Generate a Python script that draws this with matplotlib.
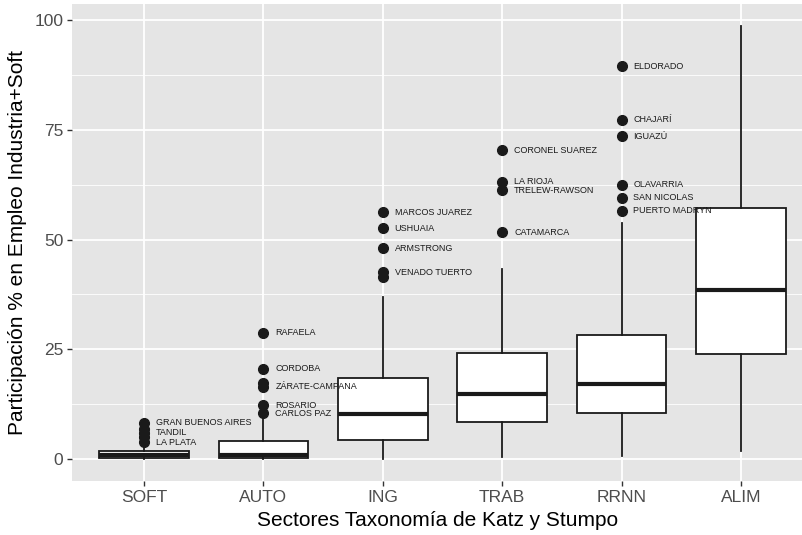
import matplotlib
matplotlib.use("Agg")
import matplotlib.pyplot as plt

plt.rcParams["font.family"] = ["Liberation Sans", "DejaVu Sans"]

# sectores y estadisticos de las cajas
sectores = ["SOFT", "AUTO", "ING", "TRAB", "RRNN", "ALIM"]
whislo = [0.0, 0.0, 0.0, 0.5, 0.75, 1.9]
q1 = [0.2, 0.2, 4.5, 8.6, 10.6, 23.9]
mediana = [1.0, 1.0, 10.2, 14.8, 17.2, 38.6]
q3 = [1.8, 4.1, 18.4, 24.1, 28.3, 57.1]
whishi = [3.0, 9.1, 36.9, 43.2, 53.7, 98.6]

# outliers por sector y sus etiquetas ("" = sin etiqueta)
outliers = [
    [8.3, 7.0, 6.1, 5.0, 3.9],
    [28.8, 20.6, 17.3, 16.5, 12.3, 10.5],
    [56.2, 52.6, 48.0, 42.5, 41.4],
    [70.3, 63.1, 61.2, 51.7],
    [89.4, 77.2, 73.5, 62.4, 59.5, 56.5],
    [],
]
etiquetas = [
    ["GRAN BUENOS AIRES", "", "TANDIL", "", "LA PLATA"],
    ["RAFAELA", "CORDOBA", "", "ZÁRATE-CAMPANA", "ROSARIO", "CARLOS PAZ"],
    ["MARCOS JUAREZ", "USHUAIA", "ARMSTRONG", "VENADO TUERTO", ""],
    ["CORONEL SUAREZ", "LA RIOJA", "TRELEW-RAWSON", "CATAMARCA"],
    ["ELDORADO", "CHAJARÍ", "IGUAZÚ", "OLAVARRIA", "SAN NICOLAS", "PUERTO MADRYN"],
    [],
]

fig = plt.figure(figsize=(8.02, 5.35), dpi=100)
ax = fig.add_axes([72.3 / 802, 1 - 481 / 535, 729.7 / 802, 476.7 / 535])
ax.set_facecolor("#E5E5E5")

pos = list(range(1, len(sectores) + 1))
stats = []
for i in range(len(sectores)):
    stats.append(dict(whislo=whislo[i], q1=q1[i], med=mediana[i],
                      q3=q3[i], whishi=whishi[i], fliers=[]))

ax.bxp(stats, positions=pos, widths=0.75, showfliers=False, patch_artist=True,
       boxprops=dict(facecolor="white", edgecolor="#1a1a1a", linewidth=1.3),
       medianprops=dict(color="#1a1a1a", linewidth=3),
       whiskerprops=dict(color="#1a1a1a", linewidth=1.3),
       capprops=dict(linewidth=0), zorder=3)

for p, vals, labs in zip(pos, outliers, etiquetas):
    ax.plot([p] * len(vals), vals, "o", color="#1a1a1a", markersize=7, zorder=4)
    for v, lab in zip(vals, labs):
        if lab:
            ax.text(p + 0.1, v, lab, fontsize=6.5, color="#1a1a1a",
                    ha="left", va="center", zorder=5)

ax.set_xlim(0.4, 0.4 + 729.7 / 119.4)
ax.set_ylim(-4.93, 103.5)
ax.set_xticks(pos)
ax.set_xticklabels(sectores)
ax.set_yticks([0, 25, 50, 75, 100])
ax.set_yticks([12.5, 37.5, 62.5, 87.5], minor=True)
ax.grid(which="major", color="white", linewidth=1.3, zorder=0)
ax.grid(which="minor", axis="y", color="white", linewidth=0.6, zorder=0)
ax.set_axisbelow(True)
for s in ax.spines.values():
    s.set_visible(False)
ax.tick_params(which="major", length=3.5, width=1, color="#333333",
               labelsize=12.5, labelcolor="#4d4d4d", pad=3)
ax.tick_params(which="minor", length=0)

ax.set_xlabel("Sectores Taxonomía de Katz y Stumpo", fontsize=15, labelpad=4)
ax.set_ylabel("Participación % en Empleo Industria+Soft", fontsize=15, labelpad=5)

fig.savefig("out.png", dpi=100)
